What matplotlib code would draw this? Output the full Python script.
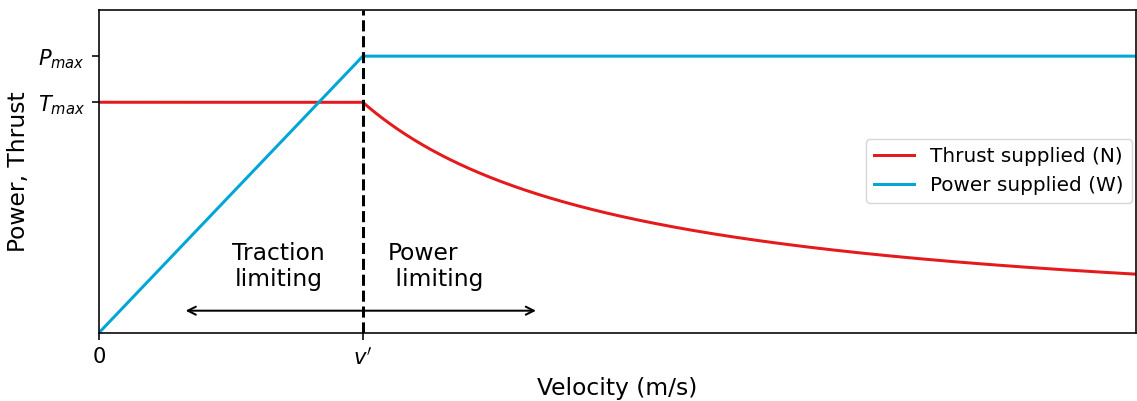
import numpy as np
import matplotlib
matplotlib.use("Agg")
import matplotlib.pyplot as plt

# normalised quantities
v_prime = 1.0
T_max = 1.0
P_max = 1.2
v_end = 3.93

v = np.linspace(0, v_end, 500)
thrust = np.where(v <= v_prime, T_max, T_max * v_prime / np.maximum(v, 1e-9))
power = np.where(v <= v_prime, P_max * v / v_prime, P_max)

s = 1.44  # reference looks drawn at a higher dpi
fs = 1.4
plt.rcParams.update({
    "axes.linewidth": 0.8 * s,
    "xtick.major.size": 3.5 * s, "ytick.major.size": 3.5 * s,
    "xtick.major.width": 0.8 * s, "ytick.major.width": 0.8 * s,
    "xtick.major.pad": 3.5 * s, "ytick.major.pad": 3.5 * s,
    "axes.labelpad": 4.0 * s,
})

fig, ax = plt.subplots(figsize=(11.37, 4.01), dpi=100)
fig.subplots_adjust(left=0.087, right=0.999, top=0.975, bottom=0.17)

ax.plot(v, thrust, color="#e41a1c", lw=1.5 * s, label="Thrust supplied (N)")
ax.plot(v, power, color="#00a6d6", lw=1.5 * s, label="Power supplied (W)")
ax.axvline(v_prime, color="black", ls="--", lw=1.5 * s)

ax.annotate("", xy=(0.318, 0.096), xytext=(1.667, 0.096),
            arrowprops=dict(arrowstyle="<->", color="black", lw=1.0 * s,
                            mutation_scale=10 * s))
ax.text(0.68, 0.287, "Traction\nlimiting", ha="center", va="center", fontsize=12 * fs)
ax.text(1.095, 0.287, "Power\n limiting", ha="left", va="center", fontsize=12 * fs)

ax.set_xlim(0, v_end)
ax.set_ylim(0, 1.4)
ax.set_xticks([0, v_prime])
ax.set_xticklabels(["0", "$v'$"], fontsize=10.5 * s)
ax.set_yticks([T_max, P_max])
ax.set_yticklabels(["$T_{max}$", "$P_{max}$"], fontsize=10.5 * s)
ax.set_xlabel("Velocity (m/s)", fontsize=12 * fs)
ax.set_ylabel("Power, Thrust", fontsize=12 * fs)
ax.legend(loc="center right", bbox_to_anchor=(1.0, 0.5), fontsize=10 * s,
          borderaxespad=0.2)

fig.savefig("out.png")
